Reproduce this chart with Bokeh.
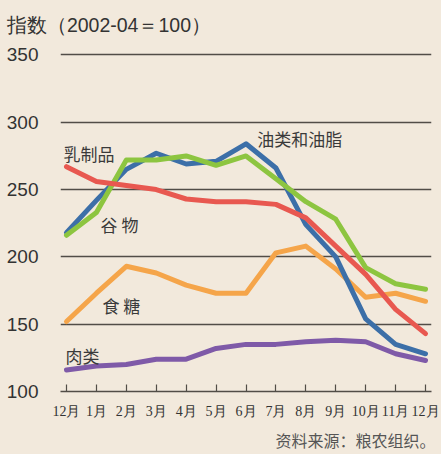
from bokeh.plotting import figure
from bokeh.models import Label, FixedTicker, Range1d, LinearAxis
from bokeh.embed import file_html
from bokeh.resources import INLINE

months = ["12月", "1月", "2月", "3月", "4月", "5月", "6月", "7月", "8月", "9月", "10月", "11月", "12月"]
oils = [218, 242, 265, 277, 269, 271, 284, 266, 224, 200, 154, 135, 128]
cereals = [216, 233, 272, 272, 275, 268, 275, 258, 241, 228, 192, 180, 176]
dairy = [267, 256, 253, 250, 243, 241, 241, 239, 229, 208, 187, 161, 143]
sugar = [152, 173, 193, 188, 179, 173, 173, 203, 208, 191, 170, 173, 167]
meat = [116, 119, 120, 124, 124, 132, 135, 135, 137, 138, 137, 128, 123]
y_ticks = [100, 150, 200, 250, 300, 350]
title_text = "指数（2002-04＝100）"
title_pos = 1.42
source_text = "资料来源：粮农组织。"
source_pos = 9.66

BG = "#f2e9dc"
GRID = "#524d47"
cjk = "Noto Sans CJK SC"
xs = list(range(len(months)))

p = figure(width=441, height=454, output_backend="svg", toolbar_location=None,
           x_range=Range1d(-0.2, len(months) - 0.8), y_range=Range1d(100, 360),
           min_border_left=60, min_border_right=10, min_border_top=41, min_border_bottom=61)
p.background_fill_color = BG
p.border_fill_color = BG
p.outline_line_color = None

p.xgrid.grid_line_color = None
p.ygrid.grid_line_color = None
p.hspan(y=y_ticks[1:], line_color=GRID, line_width=1.5)

p.yaxis.ticker = FixedTicker(ticks=y_ticks)
p.yaxis.axis_line_color = None
p.yaxis.major_tick_line_color = None
p.yaxis.minor_tick_line_color = None
p.yaxis.major_label_standoff = 16
p.yaxis.major_label_text_font = "Liberation Sans"
p.yaxis.major_label_text_font_size = "19px"
p.yaxis.major_label_text_color = "#333333"

p.xaxis.ticker = FixedTicker(ticks=xs)
p.xaxis.major_label_overrides = {i: m for i, m in enumerate(months)}
p.xaxis.axis_line_color = GRID
p.xaxis.axis_line_width = 1.5
p.xaxis.major_tick_in = 7
p.xaxis.major_tick_out = 0
p.xaxis.major_tick_line_color = GRID
p.xaxis.major_tick_line_width = 1.2
p.xaxis.minor_tick_line_color = None
p.xaxis.major_label_standoff = 12
p.xaxis.major_label_text_font = "Liberation Serif"
p.xaxis.major_label_text_font_size = "14px"
p.xaxis.major_label_text_color = "#333333"

def text_axis(pos, txt, size, color, standoff, font):
    return LinearAxis(ticker=FixedTicker(ticks=[pos]),
                      major_label_overrides={pos: txt},
                      axis_line_color=None, major_tick_line_color=None,
                      minor_tick_line_color=None, major_tick_in=0, major_tick_out=0,
                      major_label_standoff=standoff, major_label_text_font=font,
                      major_label_text_font_size=size, major_label_text_color=color)

p.add_layout(text_axis(source_pos, source_text, "16px", "#555555", 6, cjk), "below")
p.add_layout(text_axis(title_pos, title_text, "19.5px", "#333333", 6, "Liberation Sans"), "above")

lw = 5
p.line(xs, meat, line_color="#7f5aa8", line_width=lw, line_join="round", line_cap="round")
p.line(xs, sugar, line_color="#f5a54a", line_width=lw, line_join="round", line_cap="round")
p.line(xs, oils, line_color="#3c6fa8", line_width=lw, line_join="round", line_cap="round")
p.line(xs, cereals, line_color="#8dc540", line_width=lw, line_join="round", line_cap="round")
p.line(xs, dairy, line_color="#e85850", line_width=lw, line_join="round", line_cap="round")

def lab(x, y, t, size="17px", align="left", font=cjk, color="#3a3a3a"):
    p.add_layout(Label(x=x, y=y, text=t, text_font=font, text_font_size=size,
                       text_align=align, text_baseline="middle", text_color=color))

lab(6.38, 288, "油类和油脂")
lab(-0.1, 277, "乳制品")
lab(1.14, 224, "谷 物")
lab(1.2, 164, "食 糖")
lab(-0.03, 127, "肉类")

html = file_html(p, INLINE)
html = html.replace("<head>", "<head><style>body{background:%s;}</style>" % BG, 1)
open("out.html", "w").write(html)
